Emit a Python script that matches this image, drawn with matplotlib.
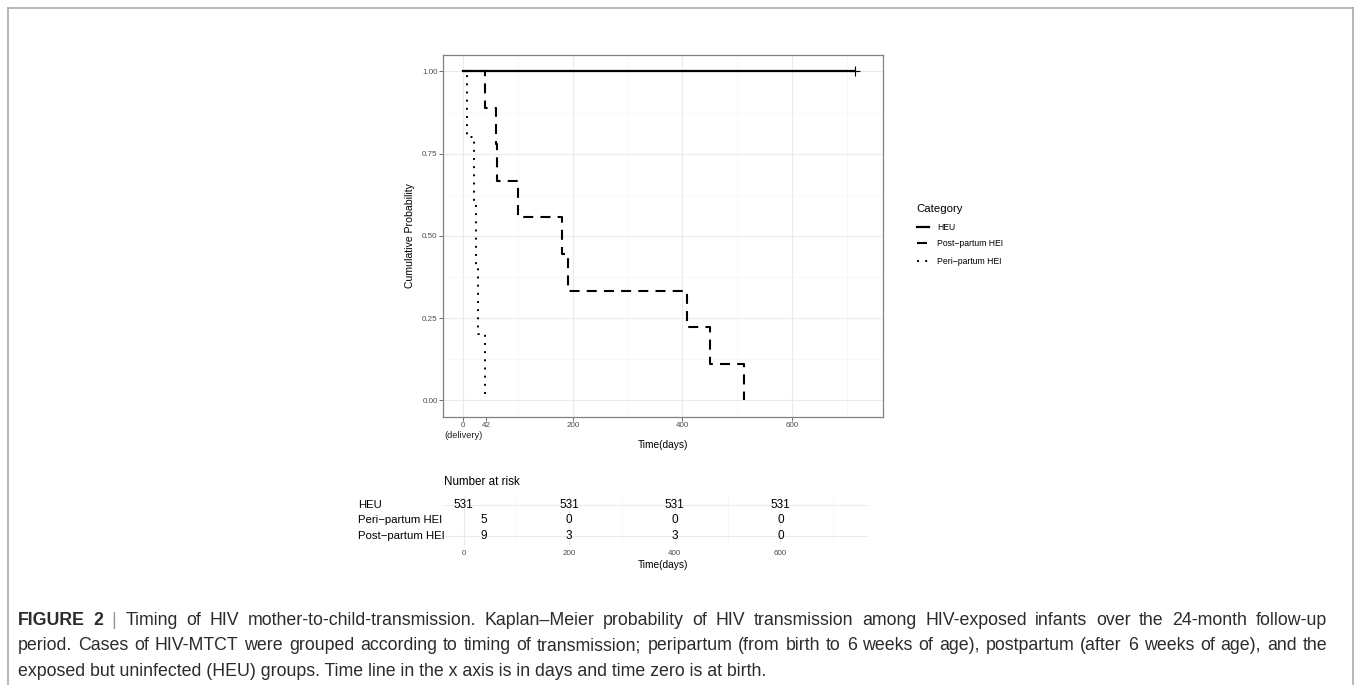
import numpy as np
import matplotlib
matplotlib.use("Agg")
import matplotlib.pyplot as plt
import matplotlib.transforms as mtransforms
from matplotlib.lines import Line2D

plt.rcParams["font.family"] = ["Liberation Sans", "DejaVu Sans"]

W, H = 1356, 685

# Kaplan-Meier step curves (time in days, cumulative probability)
heu_time = [0, 714]
heu_prob = [1.0, 1.0]
peri_time = [0, 6, 19.5, 24, 27, 40]
peri_prob = [1.0, 0.8, 0.6, 0.4, 0.2, 0.0]
post_time = [0, 40, 59, 61.5, 99, 181, 191, 408.5, 451, 513]
post_prob = [1.0, 0.889, 0.778, 0.667, 0.556, 0.444, 0.333, 0.222, 0.111, 0.0]

x_ticks = [0, 42, 200, 400, 600]
y_ticks = [0.0, 0.25, 0.5, 0.75, 1.0]

# number at risk table
risk_groups = ["HEU", "Peri\u2212partum HEI", "Post\u2212partum HEI"]
heu_risk_time = [0, 200, 400, 600]
heu_risk = [531, 531, 531, 531]
peri_risk_time = [38, 200, 400, 600]
peri_risk = [5, 0, 0, 0]
post_risk_time = [38, 200, 400, 600]
post_risk = [9, 3, 3, 0]
table_ticks = [0, 200, 400, 600]

caption_lines = [
    "FIGURE 2 | Timing of HIV mother-to-child-transmission. Kaplan\u2013Meier probability of HIV "
    "transmission among HIV-exposed infants over the 24-month follow-up",
    "period. Cases of HIV-MTCT were grouped according to timing of transmission; peripartum "
    "(from birth to 6 weeks of age), postpartum (after 6 weeks of age), and the",
    "exposed but uninfected (HEU) groups. Time line in the x axis is in days and time zero is at birth.",
]


def px(x):
    return x / W


def py(y):
    return 1 - y / H


XLIM = (-36.5, 766.5)
dot_style = (0, (1, 3.2))
dash_style = (0, (4.8, 3.45))

fig = plt.figure(figsize=(W / 100, H / 100), dpi=100)

# outer frame of the figure panel
frame_kw = dict(color="#aaaaaa", lw=1.2, transform=fig.transFigure)
fig.add_artist(Line2D([px(8.3), px(8.3)], [py(8.3), 0], **frame_kw))
fig.add_artist(Line2D([px(8.3), px(1352.7)], [py(8.3), py(8.3)], **frame_kw))
fig.add_artist(Line2D([px(1352.7), px(1352.7)], [py(8.3), 0], **frame_kw))

# main KM plot
ax = fig.add_axes([px(443.3), py(416.7), px(883.3) - px(443.3), py(55) - py(416.7)])
ax.set_xlim(*XLIM)
ax.set_ylim(-0.05, 1.05)
for x in [0, 200, 400, 600]:
    ax.axvline(x, color="#ebebeb", lw=0.8, zorder=0)
for x in [100, 300, 500, 700]:
    ax.axvline(x, color="#f4f4f4", lw=0.5, zorder=0)
for y in y_ticks:
    ax.axhline(y, color="#ebebeb", lw=0.8, zorder=0)
for y in [0.125, 0.375, 0.625, 0.875]:
    ax.axhline(y, color="#f4f4f4", lw=0.5, zorder=0)

ax.step(heu_time, heu_prob, where="post", color="black", lw=1.6, zorder=3)
ax.plot(heu_time[-1], heu_prob[-1], marker="+", ms=7, mew=0.8, color="black", zorder=3)
ax.step(post_time, post_prob, where="post", color="black", lw=1.5, ls=dash_style,
        dash_capstyle="butt", zorder=2)
ax.step(peri_time, peri_prob, where="post", color="black", lw=1.4, ls=dot_style,
        dash_capstyle="butt", zorder=2)

ax.set_xticks(x_ticks)
ax.set_xticklabels([str(v) for v in x_ticks])
ax.set_yticks(y_ticks)
ax.set_yticklabels(["0.00", "0.25", "0.50", "0.75", "1.00"])
ax.tick_params(length=2.75, width=0.5, color="#333333", labelsize=5.8,
               labelcolor="#4d4d4d", pad=1.3)
for s in ax.spines.values():
    s.set_color("#808080")
    s.set_linewidth(0.9)

trans = mtransforms.blended_transform_factory(ax.transData, fig.transFigure)
ax.text(0, py(435.3), "(delivery)", transform=trans, ha="center", va="center",
        fontsize=6.7, color="#222222")
fig.text(px(410), py(236), "Cumulative Probability", rotation=90, ha="center",
         va="center", fontsize=7.6)
fig.text(px(663), py(445), "Time(days)", ha="center", va="center", fontsize=7.3)

# legend
fig.text(px(916), py(209), "Category", ha="left", va="center", fontsize=8.2)
legend_items = [("HEU", "-", 1.6), ("Post\u2212partum HEI", dash_style, 1.5),
                ("Peri\u2212partum HEI", dot_style, 1.4)]
for (label, style, lw), yy in zip(legend_items, [227, 243, 261]):
    fig.add_artist(Line2D([px(917), px(929)], [py(yy), py(yy)], color="black", lw=lw,
                          ls=style, dash_capstyle="butt", transform=fig.transFigure))
    fig.text(px(937), py(yy), label, ha="left", va="center", fontsize=6.2)

# number at risk table
tab_left = 444.3
tab = fig.add_axes([px(tab_left), py(544.8), px(868.3) - px(tab_left), py(495.4) - py(544.8)])
tab.set_xlim(*XLIM)
tab.set_ylim(0.4, 3.6)
for x in [0, 200, 400, 600]:
    tab.axvline(x, color="#ebebeb", lw=0.8, zorder=0)
for x in [100, 300, 500, 700]:
    tab.axvline(x, color="#f4f4f4", lw=0.5, zorder=0)
for y in [1, 3]:
    tab.axhline(y, color="#ebebeb", lw=0.8, zorder=0)
rows = [(heu_risk_time, heu_risk, 3), (peri_risk_time, peri_risk, 2),
        (post_risk_time, post_risk, 1)]
for times, counts, row in rows:
    for t, n in zip(times, counts):
        tab.text(t, row, str(n), ha="center", va="center", fontsize=8.5, zorder=3)
tab.set_yticks([3, 2, 1])
tab.set_yticklabels(risk_groups, ha="left", va="center")
tab.set_xticks(table_ticks)
tab.set_xticklabels([str(v) for v in table_ticks])
# row labels are left aligned, starting at x = 358 px
tab.tick_params(axis="y", length=0, labelsize=8.2, pad=(tab_left - 358) * 0.72)
tab.tick_params(axis="x", length=0, labelsize=5.8, labelcolor="#4d4d4d", pad=4)
for s in tab.spines.values():
    s.set_visible(False)
fig.text(px(tab_left), py(482), "Number at risk", ha="left", va="center", fontsize=8.4)
fig.text(px(663), py(565), "Time(days)", ha="center", va="center", fontsize=7.3)

# caption
renderer = fig.canvas.get_renderer()
cap_color = "#2b2b2b"
probe = fig.text(0, 0, caption_lines[1], fontsize=10)
natural = probe.get_window_extent(renderer).width
probe.remove()
cap_size = 10 * 1285 / natural


def draw_justified(line, x0, x1, y, size):
    words = line.split(" ")
    texts = []
    for i, w in enumerate(words):
        bold = line.startswith("FIGURE") and i < 2
        color = "#999999" if w == "|" else cap_color
        texts.append(fig.text(0, py(y), w, fontsize=size, color=color, va="baseline",
                              fontweight="bold" if bold else "normal"))
    widths = [t.get_window_extent(renderer).width for t in texts]
    gap = (x1 - x0 - sum(widths)) / (len(words) - 1)
    x = x0
    for t, wd in zip(texts, widths):
        t.set_x(px(x))
        x += wd + gap


draw_justified(caption_lines[0], 18, 1327, 625, cap_size)
draw_justified(caption_lines[1], 18, 1327, 650.5, cap_size)
fig.text(px(18), py(676), caption_lines[2], fontsize=cap_size, color=cap_color, va="baseline")

fig.savefig("out.png", dpi=100)
